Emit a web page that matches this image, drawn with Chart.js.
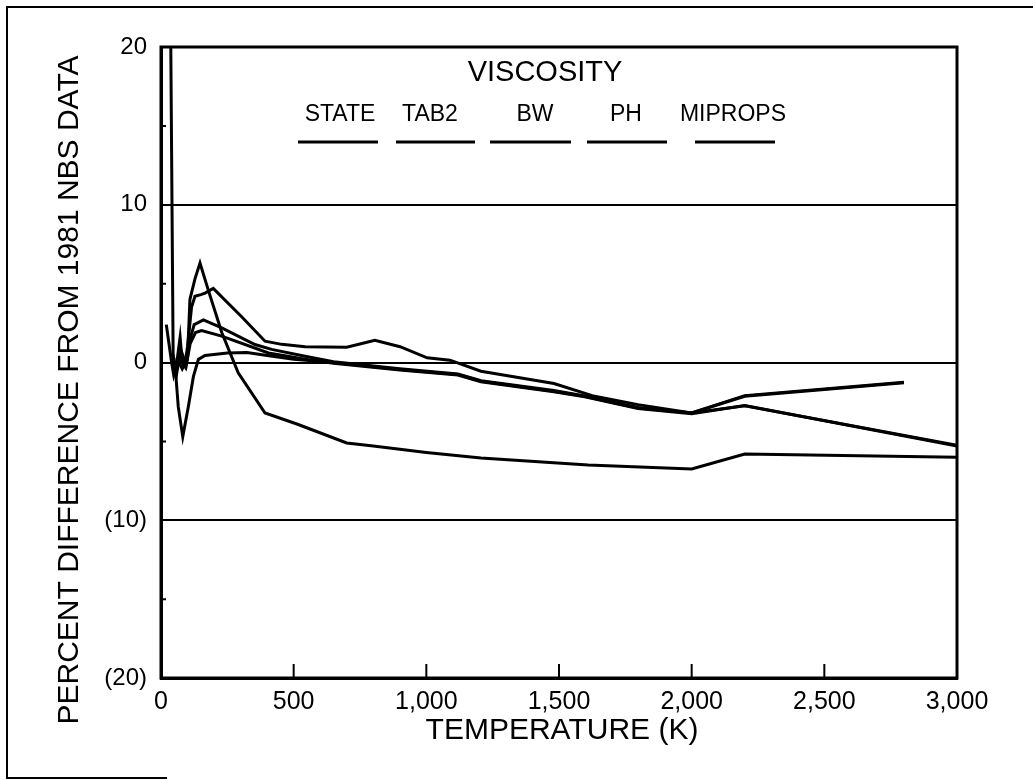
<!DOCTYPE html>
<html>
<head>
<meta charset="utf-8">
<script src="https://cdn.jsdelivr.net/npm/chart.js@4.4.0/dist/chart.umd.min.js"></script>
<style>
  body { margin: 0; background: #fff; }
  #wrap { width: 1033px; height: 780px; }
</style>
</head>
<body>
<div id="wrap"><canvas id="viscChart" width="1033" height="780"></canvas></div>
<script>
// series names, in legend order
const seriesNames = ['STATE', 'TAB2', 'BW', 'PH', 'MIPROPS'];

// temperature (K) and percent difference
const stateT = [20, 30, 40, 48, 58, 72, 80, 92, 100, 109, 128, 147, 178, 229, 291, 392, 512, 700, 800, 1000, 1206, 1610, 2000, 2200, 3000];
const stateDev = [2.4, 1.2, 0.0, -0.8, -0.2, 1.6, 0.0, -0.3, 0.3, 4.0, 5.3, 6.3, 4.6, 1.9, -0.65, -3.2, -3.9, -5.1, -5.3, -5.7, -6.05, -6.5, -6.75, -5.8, -6.0];

const tab2T = [55, 75, 90, 100, 115, 128, 150, 166, 197, 304, 392, 455, 543, 700, 806, 901, 1003, 1089, 1206, 1481, 1625, 1798, 2000, 2200, 3000];
const tab2Dev = [-0.5, 0.2, -0.1, 1.0, 3.5, 4.2, 4.3, 4.4, 4.7, 2.9, 1.35, 1.15, 1.0, 0.97, 1.4, 1.0, 0.3, 0.15, -0.55, -1.33, -2.1, -2.67, -3.2, -2.75, -5.25];

const bwT = [36, 46, 55, 65, 82, 103, 122, 141, 166, 250, 324, 400, 500, 650, 900, 1119, 1206, 1481, 1597, 1798, 2000, 2200, 2800];
const bwDev = [22, 0, -0.6, -2.8, -4.7, -2.8, -0.9, 0.2, 0.44, 0.6, 0.63, 0.45, 0.2, 0.0, -0.44, -0.76, -1.19, -1.82, -2.14, -2.88, -3.2, -2.14, -1.29];

const phT = [60, 80, 95, 110, 125, 160, 229, 354, 417, 543, 650, 900, 1119, 1206, 1481, 1597, 1798, 2000, 2200, 2800];
const phDev = [0.3, -0.4, 0.1, 1.5, 2.4, 2.7, 2.2, 1.14, 0.83, 0.4, 0.05, -0.4, -0.72, -1.15, -1.78, -2.12, -2.85, -3.2, -2.1, -1.25];

const mipropsT = [45, 60, 75, 95, 110, 130, 153, 229, 405, 543, 650, 900, 1119, 1206, 1481, 1597, 1798, 2000, 2200, 3000];
const mipropsDev = [0.5, -0.6, 0.8, -0.2, 1.2, 1.9, 2.03, 1.67, 0.6, 0.2, -0.05, -0.48, -0.8, -1.23, -1.86, -2.18, -2.92, -3.25, -2.72, -5.3];

// axis settings
const xTicks = [0, 500, 1000, 1500, 2000, 2500, 3000];
const yMajor = [-20, -10, 0, 10, 20];
const yGridLines = [-10, 0, 10];
const yMinorTicks = [-15, -5, 5, 15];

const FONT = '"Liberation Sans", Arial, sans-serif';

function toPoints(xs, ys) {
    return xs.map((x, i) => ({x: x, y: ys[i]}));
}

const allT = [stateT, tab2T, bwT, phT, mipropsT];
const allDev = [stateDev, tab2Dev, bwDev, phDev, mipropsDev];

// frame, inward ticks, titles and the legend above the curves
const decorations = {
    id: 'decorations',
    afterDraw(chart) {
        const ctx = chart.ctx;
        const area = chart.chartArea;
        const xs = chart.scales.x;
        const ys = chart.scales.y;
        ctx.save();
        ctx.strokeStyle = '#000';
        ctx.fillStyle = '#000';

        // plot box
        ctx.lineWidth = 3;
        ctx.strokeRect(area.left, area.top, area.right - area.left, area.bottom - area.top);

        // page frame
        ctx.lineWidth = 2;
        ctx.beginPath();
        ctx.moveTo(1033, 7);
        ctx.lineTo(7, 7);
        ctx.lineTo(7, 778);
        ctx.lineTo(167, 778);
        ctx.stroke();

        // inward ticks
        ctx.lineWidth = 2;
        ctx.beginPath();
        xTicks.slice(1, -1).forEach(v => {
            const px = xs.getPixelForValue(v);
            ctx.moveTo(px, area.bottom);
            ctx.lineTo(px, area.bottom - 14);
        });
        yMinorTicks.forEach(v => {
            const py = ys.getPixelForValue(v);
            ctx.moveTo(area.left, py);
            ctx.lineTo(area.left + 5, py);
        });
        ctx.stroke();

        // axis titles
        ctx.textAlign = 'center';
        ctx.textBaseline = 'middle';
        ctx.font = '30px ' + FONT;
        ctx.fillText('TEMPERATURE (K)', 562, 731);
        ctx.save();
        ctx.translate(70, 390);
        ctx.rotate(-Math.PI / 2);
        ctx.fillText('PERCENT DIFFERENCE FROM 1981 NBS DATA', 0, 0);
        ctx.restore();

        // heading and legend
        ctx.font = '29px ' + FONT;
        ctx.fillText('VISCOSITY', 545, 73);
        const labelX = [340, 430, 535, 626, 733];
        const lineX = [[298, 378], [396, 475], [490, 571], [587, 667], [695, 775]];
        ctx.font = '23px ' + FONT;
        ctx.lineWidth = 3;
        chart.data.datasets.forEach((ds, i) => {
            ctx.fillText(ds.label, labelX[i], 115);
            ctx.beginPath();
            ctx.moveTo(lineX[i][0], 142);
            ctx.lineTo(lineX[i][1], 142);
            ctx.stroke();
        });
        ctx.restore();
    }
};

const chart = new Chart(document.getElementById('viscChart').getContext('2d'), {
    type: 'line',
    data: {
        datasets: seriesNames.map((name, i) => ({
            label: name,
            data: toPoints(allT[i], allDev[i]),
            borderColor: '#000',
            backgroundColor: '#000',
            borderWidth: 3,
            pointRadius: 0,
            tension: 0,
            fill: false
        }))
    },
    options: {
        responsive: false,
        animation: false,
        devicePixelRatio: 1,
        layout: {
            padding: {left: 0, top: 47, right: 76, bottom: 0}
        },
        plugins: {
            legend: {display: false},
            tooltip: {enabled: false}
        },
        scales: {
            x: {
                type: 'linear',
                min: 0,
                max: 3000,
                afterFit: s => { s.height = 102; },
                afterBuildTicks: s => { s.ticks = xTicks.map(v => ({value: v})); },
                ticks: {
                    color: '#000',
                    font: {family: FONT, size: 25},
                    padding: 9,
                    maxRotation: 0,
                    autoSkip: false,
                    callback: value => value.toLocaleString('en-US')
                },
                grid: {display: false, drawTicks: false},
                border: {display: true, color: '#000', width: 3}
            },
            y: {
                min: -20,
                max: 20,
                afterFit: s => { s.width = 161; },
                afterBuildTicks: s => { s.ticks = yMajor.concat(yMinorTicks).map(v => ({value: v})); },
                ticks: {
                    color: '#000',
                    font: {family: FONT, size: 24},
                    padding: 14,
                    autoSkip: false,
                    callback: value => {
                        if (!yMajor.includes(value)) return '';
                        return value < 0 ? '(' + (-value) + ')' : String(value);
                    }
                },
                grid: {
                    drawTicks: false,
                    lineWidth: 2,
                    color: c => yGridLines.includes(c.tick.value) ? '#000' : 'rgba(0,0,0,0)'
                },
                border: {display: true, color: '#000', width: 3}
            }
        }
    },
    plugins: [decorations]
});
</script>
</body>
</html>
